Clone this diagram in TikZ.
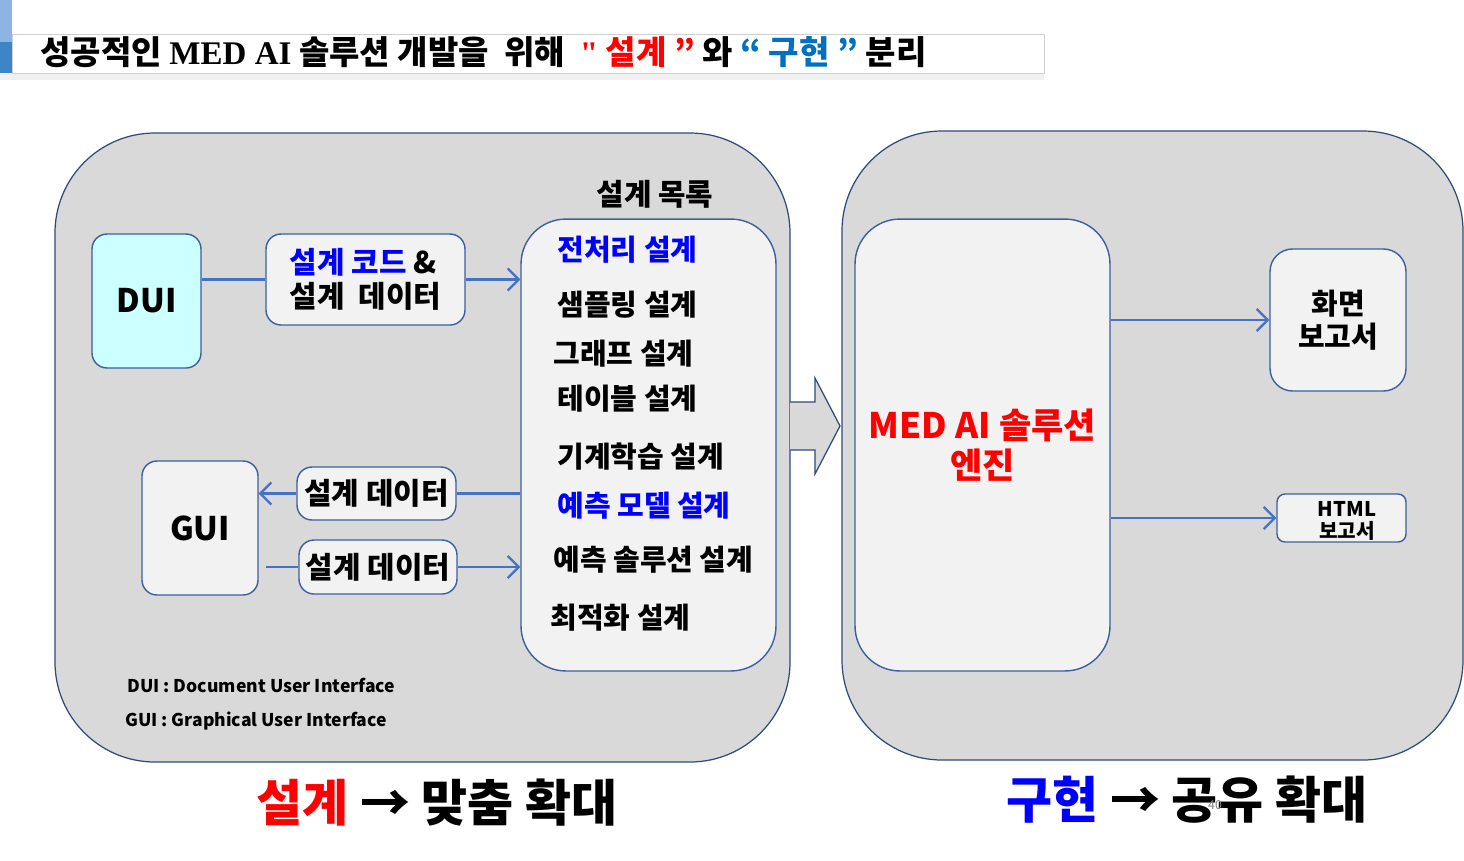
\documentclass[tikz,border=0pt]{standalone}
\usepackage{fontspec}
\setmainfont{Noto Sans CJK KR}
\newfontfamily\titleserif{Liberation Serif}
\usetikzlibrary{arrows.meta}
\definecolor{panelgray}{HTML}{D9D9D9}
\definecolor{panelline}{HTML}{2F4A7A}
\definecolor{boxfill}{HTML}{F2F2F2}
\definecolor{boxline}{HTML}{3B5FA0}
\definecolor{duicyan}{HTML}{CCFFFF}
\definecolor{linkblue}{HTML}{4472C4}
\definecolor{textblue}{HTML}{0000FF}
\definecolor{titleblue}{HTML}{0070C0}
\definecolor{stripelight}{HTML}{8DB4E2}
\definecolor{stripedark}{HTML}{3D85C6}
\definecolor{titleline}{HTML}{D0D0D0}
\definecolor{shadowgray}{HTML}{F0F0F0}
\begin{document}
\begin{tikzpicture}[
    x=0.02cm, y=-0.02cm,
    panel/.style={draw=panelline, fill=panelgray, line width=0.7pt, rounded corners=2cm},
    box/.style={draw=boxline, fill=boxfill, line width=0.8pt, rounded corners=0.3cm,
      inner sep=0pt, font=\fontsize{17}{19}\selectfont\bfseries},
    link/.style={draw=linkblue, line width=1.3pt},
    linkarrow/.style={link, -{Straight Barb[length=2.2mm,width=4.4mm]}},
    item/.style={anchor=west, inner sep=0pt, font=\fontsize{16.5}{18}\selectfont\bfseries}
  ]
  \useasboundingbox[fill=white] (0,0) rectangle (1464,860);

  % title bar
  \fill[stripelight] (0,0) rectangle (12,42);
  \fill[stripedark] (0,42) rectangle (12,73);
  \fill[shadowgray] (0,73) rectangle (1044,80);
  \draw[titleline, fill=white] (12,34) rectangle (1044,73);
  \node[anchor=west, inner sep=0pt, font=\fontsize{18.8}{20}\selectfont\bfseries] (title) at (40,52)
    {성공적인 {\titleserif MED AI} 솔루션 개발을\ \ 위해\ \ \textcolor{red}{{\titleserif"} 설계 ”} 와 \textcolor{titleblue}{“ 구현 ”} 분리};

  % panels
  \draw[panel] (55,133) rectangle (790,762);
  \draw[panel] (842,131) rectangle (1463,760);
  \draw[fill=panelgray, draw=panelline, line width=0.7pt]
    (790,402) -- (815,402) -- (815,378) -- (840,426) -- (815,474) -- (815,450) -- (790,450);

  % design side
  \node[box, fill=duicyan, minimum width=2.18cm, minimum height=2.68cm,
    font=\fontsize{18.5}{22}\selectfont\bfseries] (dui) at (146.5,301) {DUI};
  \node[box, minimum width=3.98cm, minimum height=1.82cm, align=left] (code) at (365.5,279.5)
    {\textcolor{textblue}{설계 코드} \&\\설계\ \ 데이터};
  \node[box, rounded corners=0.9cm, minimum width=5.1cm, minimum height=9.04cm] (designlist) at (648.5,445) {};
  \node[inner sep=0pt, font=\fontsize{17}{19}\selectfont\bfseries] (listtitle) at (655,194) {설계 목록};
  \foreach \y/\x/\txt/\col [count=\i] in {250/557/전처리 설계/textblue, 305/557/샘플링 설계/black,
      354/553/그래프 설계/black, 399/557/테이블 설계/black, 457/557/기계학습 설계/black,
      506/557/예측 모델 설계/textblue, 560/553/예측 솔루션 설계/black, 618/550/최적화 설계/black}
    \node[item, text=\col] (item\i) at (\x,\y) {\txt};

  \node[box, minimum width=2.32cm, minimum height=2.68cm,
    font=\fontsize{18.5}{22}\selectfont\bfseries] (gui) at (200,528) {GUI};
  \node[box, minimum width=3.18cm, minimum height=1.06cm] (datatogui) at (376.5,493.5) {설계 데이터};
  \node[box, minimum width=3.16cm, minimum height=1.08cm] (datafromgui) at (378,567) {설계 데이터};

  \draw[link] (dui.east |- code.west) -- (code.west);
  \draw[linkarrow] (code.east) -- (designlist.west |- code.east);
  \draw[link] (designlist.west |- datatogui.east) -- (datatogui.east);
  \draw[linkarrow] (datatogui.west) -- (gui.east |- datatogui.west);
  \coordinate (guiout) at ([xshift=0.14cm]gui.east |- datafromgui.west);
  \draw[link] (guiout) -- (datafromgui.west);
  \draw[linkarrow] (datafromgui.east) -- (designlist.west |- datafromgui.east);

  \node[anchor=west, inner sep=0pt, font=\fontsize{10}{12}\selectfont\bfseries] (duinote) at (127,685)
    {DUI : Document User Interface};
  \node[anchor=west, inner sep=0pt, font=\fontsize{10}{12}\selectfont\bfseries] (guinote) at (125,721)
    {GUI : Graphical User Interface};

  % build side
  \node[box, rounded corners=0.9cm, minimum width=5.1cm, minimum height=9.04cm, text=red, align=center,
    font=\fontsize{20}{23}\selectfont\bfseries] (engine) at (982.5,445) {MED AI 솔루션\\엔진};
  \node[box, rounded corners=0.45cm, minimum width=2.72cm, minimum height=2.84cm, align=center,
    font=\fontsize{16.5}{19}\selectfont\bfseries] (screen) at (1338,320) {화면\\보고서};
  \node[box, rounded corners=0.16cm, minimum width=2.58cm, minimum height=0.96cm] (html) at (1341.5,518) {};
  \node[inner sep=0pt, align=center, font=\fontsize{11.5}{13}\selectfont\bfseries] (htmltext) at (1347,521)
    {HTML\\보고서};
  \draw[linkarrow] (engine.east |- screen.west) -- (screen.west);
  \draw[linkarrow] (engine.east |- html.west) -- (html.west);

  % footer
  \node[inner sep=0pt, font=\fontsize{28.5}{30}\selectfont\bfseries] (designfoot) at (437,803)
    {\textcolor{red}{설계} → 맞춤 확대};
  \node[inner sep=0pt, font=\fontsize{28.5}{30}\selectfont\bfseries] (buildfoot) at (1187,800)
    {\textcolor{textblue}{구현} → 공유 확대};
  \node[inner sep=0pt, text=gray, font=\fontsize{7}{8}\selectfont] (pagenum) at (1215,805) {40};
\end{tikzpicture}
\end{document}
